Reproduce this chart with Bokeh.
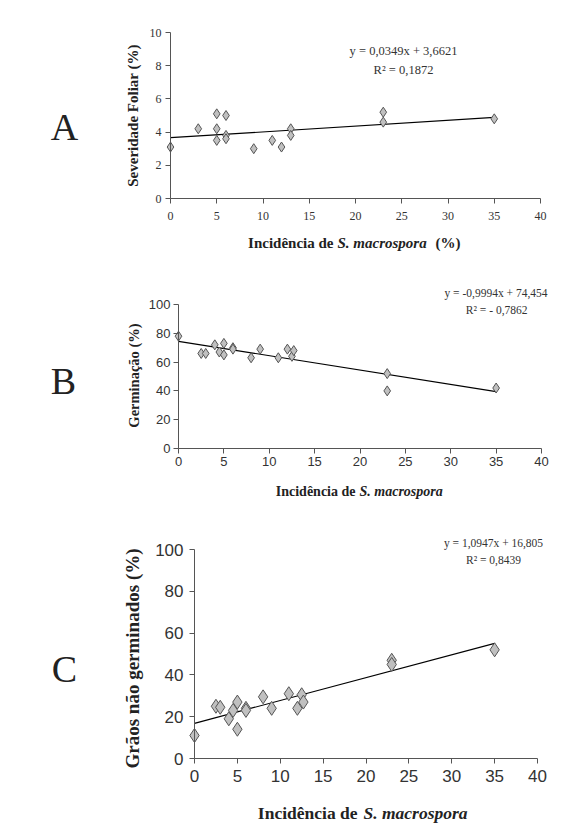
import math
from bokeh.plotting import figure
from bokeh.models import Range1d, FixedTicker, Label
from bokeh.layouts import column
from bokeh.embed import file_html
from bokeh.resources import INLINE

# ---------------- data ----------------
# Panel A: Severidade foliar
a_x = [0, 3, 5, 5, 5, 6, 6, 6, 9, 11, 12, 13, 13, 23, 23, 35]
a_y = [3.1, 4.2, 5.1, 4.2, 3.5, 5.0, 3.8, 3.6, 3.0, 3.5, 3.1, 4.2, 3.8, 5.2, 4.6, 4.8]
a_slope, a_intercept = 0.0349, 3.6621
a_eq = ["y = 0,0349x + 3,6621", "R² = 0,1872"]

# Panel B: Germinação
b_x = [0, 2.5, 3, 4, 4.5, 5, 5, 6, 6, 8, 9, 11, 12, 12.5, 12.7, 23, 23, 35]
b_y = [78, 66, 66, 72, 67, 73, 65, 70, 69, 63, 69, 63, 69, 64, 68, 52, 40, 42]
b_slope, b_intercept = -0.9994, 74.454
b_eq = ["y = -0,9994x + 74,454", "R² = - 0,7862"]

# Panel C: Grãos não germinados
c_x = [0, 2.5, 3, 4, 4.5, 5, 5, 6, 6, 8, 9, 11, 12, 12.5, 12.7, 23, 23, 35]
c_y = [11, 25, 24.5, 19, 23, 27, 14, 24, 23, 29.5, 24, 31, 24, 30.5, 27, 47, 45, 52]
c_slope, c_intercept = 1.0947, 16.805
c_eq = ["y = 1,0947x + 16,805", "R² = 0,8439"]

fit_x = [0, 35]
x_ticks = [0, 5, 10, 15, 20, 25, 30, 35, 40]
a_yticks = [0, 2, 4, 6, 8, 10]
bc_yticks = [0, 20, 40, 60, 80, 100]
x_title = "Incidência de"
x_species = "S. macrospora"

SERIF = "Liberation Serif"
SANS = "Liberation Sans"
AXIS_COL = "#555555"
TEXT_COL = "#333333"

PAGE_L, PAGE_R = 0, 573
W = PAGE_R - PAGE_L


class Panel:
    """One panel whose plotting frame covers the whole figure; the axes are
    fixed at x=0 / y=0 so that outer texts can live inside the frame."""

    def __init__(self, top, bottom, ax_left, ax_right, ax_top, ax_bottom,
                 xmax, ymax, yticks, tick_font, tick_size, xstand, ystand):
        self.top, self.bottom = top, bottom
        h = bottom - top
        xpx = (ax_right - ax_left) / xmax
        ypx = (ax_bottom - ax_top) / ymax
        xr = Range1d((PAGE_L - ax_left) / xpx, (PAGE_R - ax_left) / xpx)
        yr = Range1d(-(bottom - ax_bottom) / ypx, (ax_bottom - top) / ypx)
        p = figure(width=W, height=h, x_range=xr, y_range=yr,
                   min_border=0, min_border_left=0, min_border_right=0,
                   min_border_top=0, min_border_bottom=0,
                   output_backend="svg", toolbar_location=None)
        p.outline_line_color = None
        p.grid.grid_line_color = None
        p.background_fill_color = "white"
        p.border_fill_color = "white"
        for ax in (p.xaxis[0], p.yaxis[0]):
            ax.fixed_location = 0
            ax.axis_line_color = AXIS_COL
            ax.major_tick_line_color = AXIS_COL
            ax.minor_tick_line_color = None
            ax.major_tick_in = 0
            ax.major_tick_out = 5
            ax.major_label_text_font = tick_font
            ax.major_label_text_font_size = tick_size
            ax.major_label_text_color = TEXT_COL
        p.xaxis.ticker = FixedTicker(ticks=x_ticks)
        p.yaxis.ticker = FixedTicker(ticks=yticks)
        p.xaxis.bounds = (0, xmax)
        p.yaxis.bounds = (0, ymax)
        p.xaxis.major_label_standoff = xstand
        p.yaxis.major_label_standoff = ystand
        self.p = p

    def data(self, xs, ys, slope, intercept, marker_size):
        fy = [intercept + slope * v for v in fit_x]
        self.p.line(fit_x, fy, line_color="black", line_width=1.2)
        self.p.scatter(xs, ys, marker="diamond", size=marker_size,
                       fill_color="#c0c0c0", line_color="#555555", line_width=1)

    def lab(self, text, px, py, size, font=SERIF, style="normal",
            align="center", angle=0.0, color="#222222"):
        # px, py: page pixel position of the text anchor
        self.p.add_layout(Label(x=px - PAGE_L, y=self.bottom - py,
                                x_units="screen", y_units="screen",
                                text=text, text_font=font, text_font_size=size,
                                text_font_style=style, text_align=align,
                                text_baseline="middle", angle=angle,
                                text_color=color))


# ---------------- Panel A ----------------
A = Panel(0, 258, 170, 540, 32, 198, 40, 10, a_yticks, SERIF, "12px", 8, 4)
A.data(a_x, a_y, a_slope, a_intercept, 10)
A.lab("A", 64, 126, "38px")
A.lab("Severidade Foliar (%)", 132, 115, "15px", style="bold", angle=math.pi / 2)
A.lab(a_eq[0], 403, 50, "12.5px", color=TEXT_COL)
A.lab(a_eq[1], 403, 69, "12.5px", color=TEXT_COL)
A.lab(x_title, 333, 242, "15px", style="bold", align="right")
A.lab(x_species, 337, 242, "15px", style="bold italic", align="left")
A.lab("(%)", 460, 242, "15px", style="bold", align="right")

# ---------------- Panel B ----------------
B = Panel(258, 502, 178, 541, 304, 448, 40, 100, bc_yticks, SANS, "13px", 3, 3)
B.data(b_x, b_y, b_slope, b_intercept, 10)
B.lab("B", 63, 380, "38px")
B.lab("Germinação (%)", 133, 375, "14.5px", style="bold", angle=math.pi / 2)
B.lab(b_eq[0], 547, 292, "11.5px", align="right", color=TEXT_COL)
B.lab(b_eq[1], 527, 309, "11.5px", align="right", color=TEXT_COL)
B.lab(x_title, 355, 491, "14px", style="bold", align="right")
B.lab(x_species, 359, 491, "14px", style="bold italic", align="left")

# ---------------- Panel C ----------------
C = Panel(502, 826, 194, 537, 549, 758, 40, 100, bc_yticks, SANS, "17px", 6, 6)
C.data(c_x, c_y, c_slope, c_intercept, 14)
C.lab("C", 64, 668, "38px")
C.lab("Grãos não germinados (%)", 132, 658, "19px", style="bold", angle=math.pi / 2)
C.lab(c_eq[0], 493, 542, "11.5px", color=TEXT_COL)
C.lab(c_eq[1], 493, 559, "11.5px", color=TEXT_COL)
C.lab(x_title, 357, 812, "17.5px", style="bold", align="right")
C.lab(x_species, 363, 812, "17.5px", style="bold italic", align="left")

layout = column(A.p, B.p, C.p, spacing=0)
open("out.html", "w").write(file_html(layout, INLINE))
